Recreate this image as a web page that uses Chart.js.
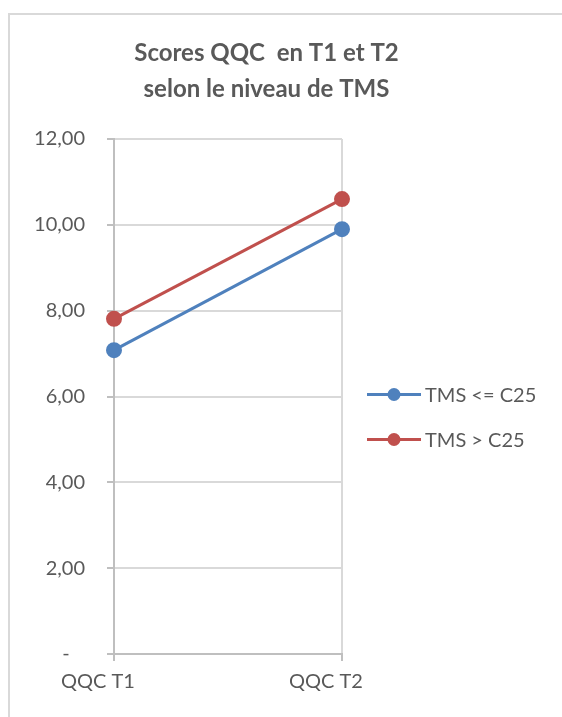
<!DOCTYPE html>
<html>
<head>
<meta charset="utf-8">
<script src="https://cdn.jsdelivr.net/npm/chart.js@4/dist/chart.umd.min.js"></script>
<style>
    html, body { margin: 0; padding: 0; background: #fff; overflow: hidden; }
    #frame { position: absolute; left: 8px; top: 13px; width: 700px; height: 800px;
             border-left: 2px solid #d9d9d9; border-top: 2px solid #d9d9d9; }
    #wrap { position: absolute; left: 0; top: 0; width: 562px; height: 717px; }
</style>
</head>
<body>
<div id="frame"></div>
<div id="wrap"><canvas id="graph"></canvas></div>
<script>
// valeurs
const labels = ['QQC T1', 'QQC T2'];
const tmsLow = [7.08, 9.90];
const tmsHigh = [7.81, 10.60];
const seriesNames = ['TMS <= C25', 'TMS > C25'];
const titleLines = ['Scores QQC  en T1 et T2', 'selon le niveau de TMS'];

const blue = '#4F81BD';
const red = '#C0504D';
const gray = '#595959';

Chart.defaults.font.family = 'Lato';

function fmt(v) {
    if (v === 0) return '-   ';
    return v.toFixed(2).replace('.', ',');
}

// légende à droite façon Excel (trait + rond), dessinée à côté de la zone du graphe
const sideLegend = {
    id: 'sideLegend',
    afterDraw(chart) {
        const ctx = chart.ctx;
        const area = chart.chartArea;
        const x0 = area.right + 25;
        const gap = 45;
        const yMid = 417;
        const sets = chart.data.datasets;
        ctx.save();
        ctx.font = '20px Lato';
        ctx.textBaseline = 'middle';
        sets.forEach((ds, i) => {
            const y = yMid + (i - (sets.length - 1) / 2) * gap;
            ctx.strokeStyle = ds.borderColor;
            ctx.lineWidth = 3;
            ctx.beginPath();
            ctx.moveTo(x0, y);
            ctx.lineTo(x0 + 54, y);
            ctx.stroke();
            ctx.fillStyle = ds.borderColor;
            ctx.beginPath();
            ctx.arc(x0 + 27, y, 6.5, 0, Math.PI * 2);
            ctx.fill();
            ctx.fillStyle = gray;
            ctx.fillText(ds.label, x0 + 58, y + 1);
        });
        ctx.restore();
    }
};

const graph = new Chart(document.getElementById('graph'), {
    type: 'line',
    data: {
        labels: labels,
        datasets: [
            {
                label: seriesNames[0],
                data: tmsLow,
                borderColor: blue,
                backgroundColor: blue,
                pointBackgroundColor: blue,
                pointBorderColor: blue,
                borderWidth: 3,
                pointRadius: 6.5,
                clip: false
            },
            {
                label: seriesNames[1],
                data: tmsHigh,
                borderColor: red,
                backgroundColor: red,
                pointBackgroundColor: red,
                pointBorderColor: red,
                borderWidth: 3,
                pointRadius: 6.5,
                clip: false
            }
        ]
    },
    options: {
        responsive: true,
        maintainAspectRatio: false,
        animation: false,
        layout: {padding: {left: 0, right: 29, top: 0, bottom: 14}},
        plugins: {
            title: {
                display: true,
                text: titleLines,
                color: gray,
                font: {size: 24, weight: 'bold', lineHeight: 1.5},
                padding: {top: 35, bottom: 32}
            },
            legend: {display: false},
            tooltip: {enabled: false}
        },
        scales: {
            x: {
                offset: false,
                grid: {color: '#d9d9d9', tickColor: '#bfbfbf', tickLength: 7, lineWidth: 2},
                border: {color: '#bfbfbf', width: 2},
                ticks: {color: gray, font: {size: 20}, padding: 9, labelOffset: -16}
            },
            y: {
                min: 0,
                max: 12,
                ticks: {stepSize: 2, color: gray, font: {size: 20}, padding: 22, callback: fmt},
                grid: {color: '#d9d9d9', tickColor: '#bfbfbf', tickLength: 7, lineWidth: 2},
                border: {color: '#bfbfbf', width: 2},
                afterFit: function (s) { s.width = 114; }
            },
            // axe vide à droite : réserve la place de la légende
            side: {
                position: 'right',
                display: true,
                grid: {display: false, drawTicks: false},
                border: {display: false},
                ticks: {display: false},
                afterFit: function (s) { s.width = 191; }
            }
        }
    },
    plugins: [sideLegend]
});
</script>
</body>
</html>
